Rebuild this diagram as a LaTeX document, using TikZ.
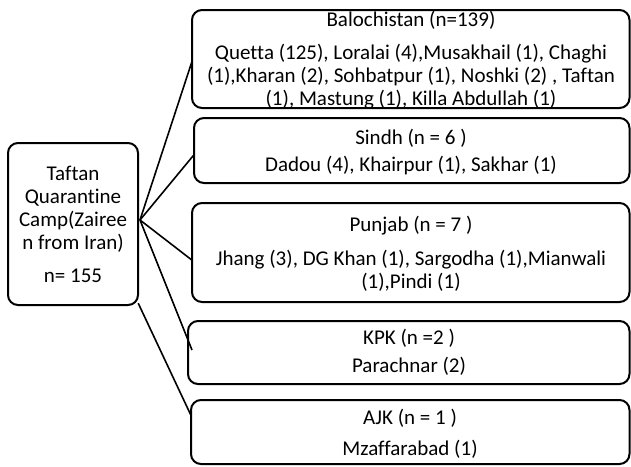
\documentclass[tikz,border=0pt]{standalone}
\usepackage{fontspec}
\setmainfont{Carlito}[RawFeature={-liga;-clig;-dlig}]
\begin{document}
\begin{tikzpicture}[x=1pt,y=-1pt,
  box/.style={draw=black,line width=2pt,rounded corners=10pt},
  txt/.style={inner sep=0pt,align=center,font=\fontsize{21}{23}\selectfont},
  link/.style={draw=black,line width=1.6pt}]
\useasboundingbox (0,0) rectangle (631,466);
% boxes
\path[box] (8,143) rectangle (138,305);
\node (L) at (73,224) [minimum width=130pt,minimum height=162pt,inner sep=0pt] {};
\path[box] (192,10) rectangle (629.5,108);
\node (B1) at (410.75,59) [minimum width=437.5pt,minimum height=98pt,inner sep=0pt] {};
\path[box] (194,118) rectangle (629.5,183);
\node (B2) at (411.75,150.5) [minimum width=435.5pt,minimum height=65pt,inner sep=0pt] {};
\path[box] (192,203) rectangle (629.5,302);
\node (B3) at (410.75,252.5) [minimum width=437.5pt,minimum height=99pt,inner sep=0pt] {};
\path[box] (188,321) rectangle (629.5,384);
\node (B4) at (408.75,352.5) [minimum width=441.5pt,minimum height=63pt,inner sep=0pt] {};
\path[box] (191,400) rectangle (629.5,464);
\node (B5) at (410.25,432) [minimum width=438.5pt,minimum height=64pt,inner sep=0pt] {};
% texts
\node[txt] (t0) at (73,224) {Taftan\\Quarantine\\Camp(Zairee\\n from Iran)\\[10pt]n= 155};
\node[txt] (t1a) at (411,20) {Balochistan (n=139)};
\node[txt] (t1b) at (411,77) {Quetta (125), Loralai (4),Musakhail (1), Chaghi\\(1),Kharan (2), Sohbatpur (1), Noshki (2) , Taftan\\(1), Mastung (1), Killa Abdullah (1)};
\node[txt] (t2a) at (411,138) {Sindh (n = 6 )};
\node[txt] (t2b) at (411,166) {Dadou (4), Khairpur (1), Sakhar (1)};
\node[txt] (t3a) at (411,226) {Punjab (n = 7 )};
\node[txt] (t3b) at (411,271) {Jhang (3), DG Khan (1), Sargodha (1),Mianwali\\(1),Pindi (1)};
\node[txt] (t4a) at (409,338) {KPK (n =2 )};
\node[txt] (t4b) at (409,366) {Parachnar (2)};
\node[txt] (t5a) at (410,418) {AJK (n = 1 )};
\node[txt] (t5b) at (410,449) {Mzaffarabad (1)};
% connectors
\coordinate (hub) at (140,220);
\coordinate (e4) at (192,350);
\draw[link] (hub) -- (B1.west |- 0,62);
\draw[link] (hub) -- (B2.west |- 0,155);
\draw[link] (hub) -- (B3.west |- 0,260);
\draw[link] (hub) -- (e4);
\draw[link] (L.south east) ++(0,-2) -- (B5.west |- 0,415);
\end{tikzpicture}
\end{document}
